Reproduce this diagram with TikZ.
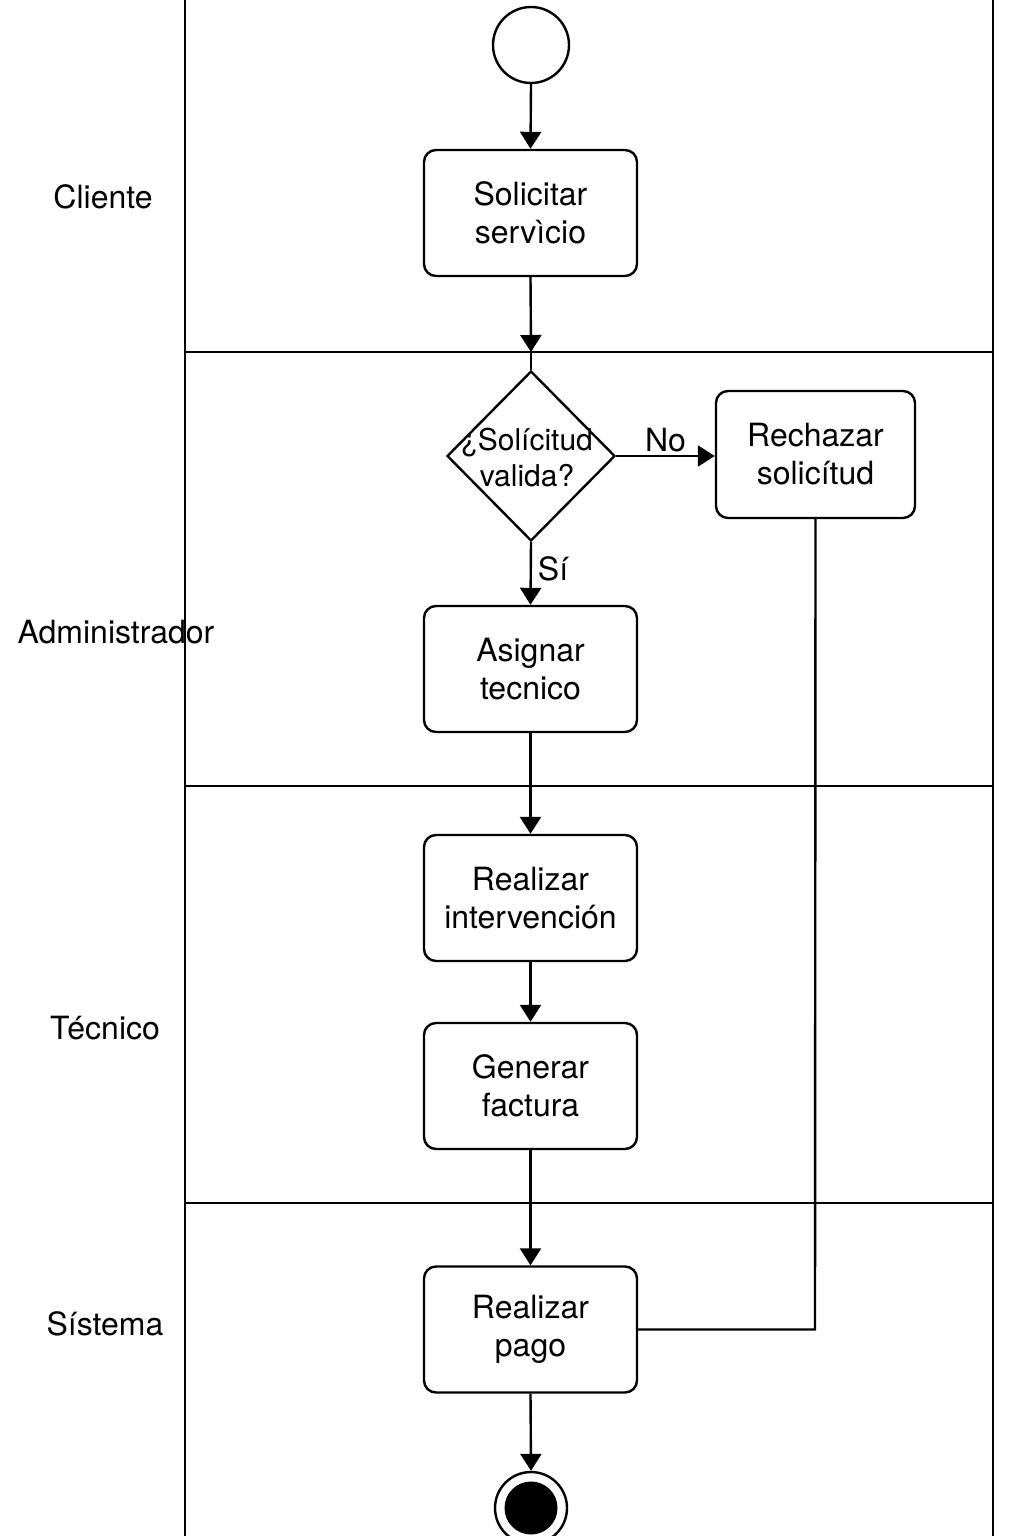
\documentclass[tikz,border=0pt]{standalone}
\usepackage{fontspec}
\setmainfont{TeX Gyre Heros}
\usetikzlibrary{arrows.meta,shapes.geometric}
\begin{document}
\begin{tikzpicture}[x=1pt,y=-1pt,
  lw/.style={line width=2.4pt},
  box/.style={draw,lw,rounded corners=12pt,minimum width=213pt,minimum height=126pt,inner sep=0pt,align=center,font=\fontsize{32}{38}\selectfont},
  lbl/.style={font=\fontsize{32}{38}\selectfont,inner sep=0pt},
  arr/.style={lw,-{Triangle[length=17pt,width=21pt]}},
  lane/.style={line width=2pt}]
\useasboundingbox (0,0) rectangle (1024,1536);
% lanes
\draw[lane] (185,0) -- (185,1536);
\draw[lane] (993,0) -- (993,1536);
\draw[lane] (185,352) -- (993,352);
\draw[lane] (185,786) -- (993,786);
\draw[lane] (185,1203) -- (993,1203);
\node[lbl] (lc) at (103,197) {Cliente};
\node[lbl] (la) at (116,632) {Administrador};
\node[lbl] (lt) at (105,1028) {Técnico};
\node[lbl] (ls) at (105,1324) {Sístema};
% nodes
\node[circle,draw,lw,minimum size=76pt,inner sep=0pt] (start) at (531,45) {};
\node[box] (sol) at (530.5,213) {Solicitar\\servìcio};
\node[diamond,draw,lw,minimum width=168pt,minimum height=170pt,inner sep=0pt] (dia) at (531,456) {};
\node[lbl,align=center,font=\fontsize{30}{36}\selectfont] (diat) at (527,458) {¿Solícitud\\valida?};
\node[box,minimum width=199pt,minimum height=127pt] (rech) at (815.5,454.5) {Rechazar\\solicítud};
\node[box] (asig) at (530.5,669) {Asignar\\tecnico};
\node[box] (inter) at (530.5,898) {Realizar\\intervención};
\node[box] (fact) at (530.5,1086) {Generar\\factura};
\node[box] (pago) at (530.5,1329.5) {Realizar\\pago};
\node[circle,draw,lw,minimum size=72pt,inner sep=0pt] (end) at (531,1508) {};
\node[circle,fill,minimum size=53pt,inner sep=0pt] (endin) at (end.center) {};
\coordinate (l1) at (531,352);
\coordinate (bend) at (815,1329.5);
% connectors
\draw[arr] (start.south) -- (sol.north);
\draw[arr] (sol.south) -- (l1);
\draw[lw] (l1) -- (dia.north);
\draw[arr] (dia.east) -- node[lbl,above=3pt] (no) {No} (dia.east -| rech.west);
\draw[arr] (dia.south) -- node[lbl,right=6pt,pos=0.42] (si) {Sí} (asig.north);
\draw[arr] (asig.south) -- (inter.north);
\draw[arr] (inter.south) -- (fact.north);
\draw[arr] (fact.south) -- (pago.north);
\draw[lw] (rech.south) -- (bend) -- (pago.east);
\draw[arr] (pago.south) -- (end.north);
\end{tikzpicture}
\end{document}
